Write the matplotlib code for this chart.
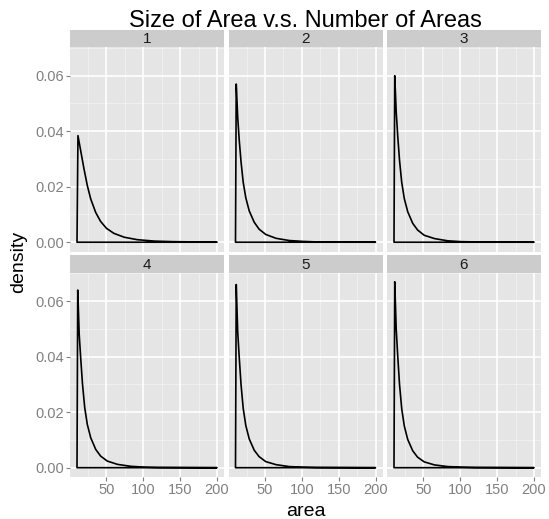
import numpy as np
import matplotlib
matplotlib.use("Agg")
import matplotlib.pyplot as plt

plt.rcParams['font.family'] = ['Liberation Sans', 'DejaVu Sans']

# density curves, one per facet
facets = ["1", "2", "3", "4", "5", "6"]
area = [10, 11, 13, 15, 17.5, 20.5, 24, 28.6, 35.4, 42, 51, 65, 83, 101, 120, 200]
area_1 = [10, 11.3, 15, 19.5, 24, 28.6, 35.4, 42, 50, 60, 74, 92, 115, 140, 200]
dens_1 = [0, 0.0384, 0.033, 0.0264, 0.0204, 0.0156, 0.0107, 0.0075, 0.0050, 0.0032,
          0.0018, 0.0009, 0.0004, 0.0002, 0]
dens_2 = [0, 0.057, 0.045, 0.037, 0.029, 0.0215, 0.016, 0.0113, 0.0072, 0.0047,
          0.0028, 0.0014, 0.0006, 0.0003, 0.0001, 0]
dens_3 = [0, 0.060, 0.047, 0.0385, 0.0295, 0.0215, 0.0157, 0.011, 0.0068, 0.0044,
          0.0025, 0.0013, 0.0005, 0.0002, 0.0001, 0]
dens_4 = [0, 0.064, 0.048, 0.0396, 0.030, 0.0216, 0.0156, 0.0108, 0.0066, 0.0042,
          0.0024, 0.0012, 0.0005, 0.0002, 0.0001, 0]
dens_5 = [0, 0.066, 0.049, 0.040, 0.030, 0.0213, 0.0152, 0.0104, 0.0063, 0.0040,
          0.0022, 0.0011, 0.0004, 0.0002, 0.0001, 0]
dens_6 = [0, 0.067, 0.050, 0.0405, 0.030, 0.0212, 0.015, 0.0102, 0.0061, 0.0038,
          0.0021, 0.0010, 0.0004, 0.0002, 0.0001, 0]
xs = [area_1, area, area, area, area, area]
ys = [dens_1, dens_2, dens_3, dens_4, dens_5, dens_6]

x_ticks = [50, 100, 150, 200]
x_minor = [25, 75, 125, 175]
y_ticks = [0.00, 0.02, 0.04, 0.06]
y_minor = [0.01, 0.03, 0.05, 0.07]

W, H = 549, 519
fig = plt.figure(figsize=(W / 100, H / 100), dpi=100)

col_left = [70, 228.5, 387]
row_top = [47, 272.5]
pw, ph = 154, 204.5
strip_h = 17.5

for i in range(6):
    r, c = divmod(i, 3)
    l, t = col_left[c], row_top[r]
    ax = fig.add_axes([l / W, 1 - (t + ph) / H, pw / W, ph / H])
    ax.set_facecolor('#E5E5E5')
    for v in x_minor:
        ax.axvline(v, color='#F2F2F2', lw=0.6, zorder=0)
    for v in y_minor:
        ax.axhline(v, color='#F2F2F2', lw=0.6, zorder=0)
    for v in x_ticks:
        ax.axvline(v, color='white', lw=1.2, zorder=0)
    for v in y_ticks:
        ax.axhline(v, color='white', lw=1.2, zorder=0)
    ax.fill(xs[i], ys[i], fill=False, edgecolor='black', lw=1.2,
            joinstyle='round', zorder=3)
    ax.set_xlim(0.5, 209.5)
    ax.set_ylim(-0.00335, 0.07035)
    for s in ax.spines.values():
        s.set_visible(False)
    ax.set_xticks(x_ticks)
    ax.set_yticks(y_ticks)
    ax.tick_params(colors='#7F7F7F', length=3, width=0.8, labelcolor='#808080')
    ax.tick_params(axis='x', labelsize=10.5, pad=1.5)
    ax.tick_params(axis='y', labelsize=10.5, pad=1.5)
    if c == 0:
        ax.set_yticklabels(["%.2f" % v for v in y_ticks])
    else:
        ax.tick_params(axis='y', left=False, labelleft=False)
    if r == 1:
        ax.set_xticklabels([str(v) for v in x_ticks])
    else:
        ax.tick_params(axis='x', bottom=False, labelbottom=False)

    sx = fig.add_axes([l / W, 1 - t / H, pw / W, strip_h / H])
    sx.set_facecolor('#CCCCCC')
    sx.set_xticks([])
    sx.set_yticks([])
    for s in sx.spines.values():
        s.set_visible(False)
    sx.text(0.5, 0.45, facets[i], ha='center', va='center', fontsize=11,
            color='#1A1A1A', transform=sx.transAxes)

fig.text(305.5 / W, 1 - 27 / H, "Size of Area v.s. Number of Areas",
         ha='center', va='baseline', fontsize=17)
fig.text(305.5 / W, 1 - 516 / H, "area", ha='center', va='baseline', fontsize=14)
fig.text(19 / W, 1 - 262 / H, "density", ha='center', va='center',
         rotation=90, fontsize=14)

fig.savefig("out.png", dpi=100)
